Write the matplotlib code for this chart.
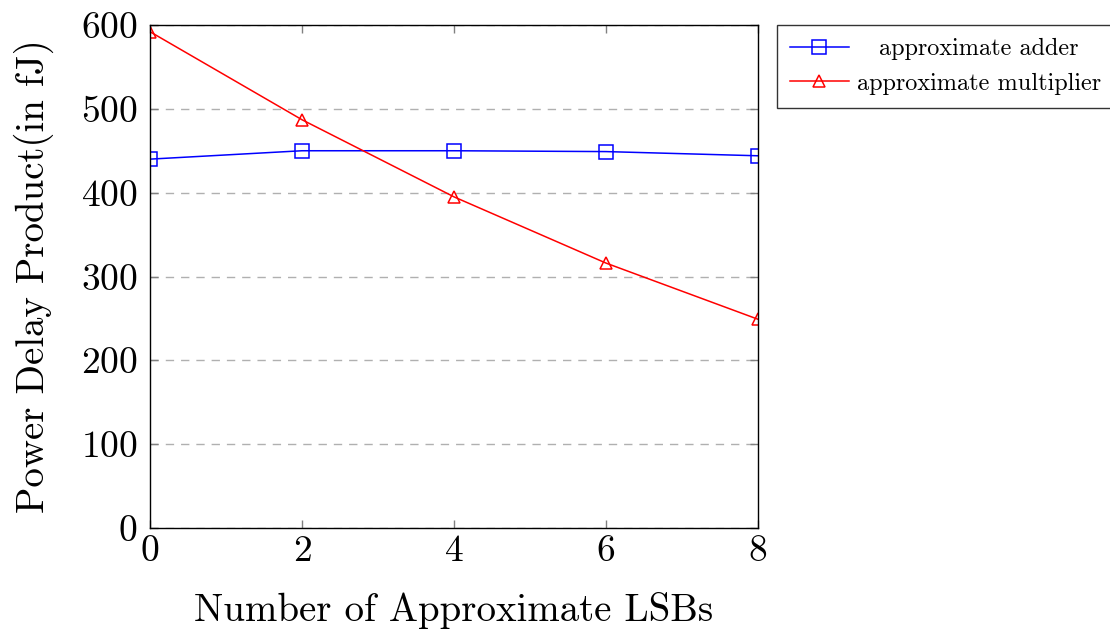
import matplotlib
matplotlib.use('Agg')
import matplotlib.pyplot as plt

plt.rcParams['font.family'] = ['cmr10', 'DejaVu Serif']
plt.rcParams['axes.formatter.use_mathtext'] = True
plt.rcParams['mathtext.fontset'] = 'cm'

lsbs = [0, 2, 4, 6, 8]
adder_pdp = [440, 450, 450, 449, 444]
multiplier_pdp = [592, 487, 395, 316, 249]
y_ticks = [0, 100, 200, 300, 400, 500, 600]

fig = plt.figure(figsize=(11.1, 6.35), dpi=100)
ax = fig.add_axes([150 / 1110, 107 / 635, 608 / 1110, 503 / 635])

ax.plot(lsbs, adder_pdp, color='b', linewidth=1.1, marker='s', markersize=10,
        markerfacecolor='none', markeredgecolor='b', markeredgewidth=1.1, label='approximate adder')
ax.plot(lsbs, multiplier_pdp, color='r', linewidth=1.1, marker='^', markersize=9,
        markerfacecolor='none', markeredgecolor='r', markeredgewidth=1.1, label='approximate multiplier')

ax.set_xlim(0, 8)
ax.set_ylim(0, 600)
ax.set_xticks(lsbs)
ax.set_yticks(y_ticks)
ax.yaxis.grid(True, linestyle=(0, (6, 5)), color='#b0b0b0', linewidth=1.0)
ax.set_axisbelow(True)
ax.tick_params(direction='in', top=True, right=True, length=6, width=1.0,
               color='#808080', labelsize=27)
ax.tick_params(axis='x', pad=5)
ax.tick_params(axis='y', pad=9)
for s in ax.spines.values():
    s.set_linewidth(1.0)

ax.set_xlabel('Number of Approximate LSBs', fontsize=28, labelpad=17)
ax.set_ylabel('Power Delay Product(in fJ)', fontsize=28, labelpad=19)

leg = ax.legend(loc='upper left', bbox_to_anchor=(1.031, 1.0), fontsize=17.5, frameon=True,
                fancybox=False, edgecolor='black', handlelength=2.4, borderpad=0.55,
                labelspacing=0.5, handletextpad=0.35, borderaxespad=0.0)
leg.get_frame().set_linewidth(1.0)

# pgfplots centres legend texts in their column
fig.canvas.draw()
texts = leg.get_texts()
widths = [t.get_window_extent().width for t in texts]
wmax = max(widths)
for t, w in zip(texts, widths):
    t.set_position(((wmax - w) / 2, 0))

fig.savefig('out.png', dpi=100)
